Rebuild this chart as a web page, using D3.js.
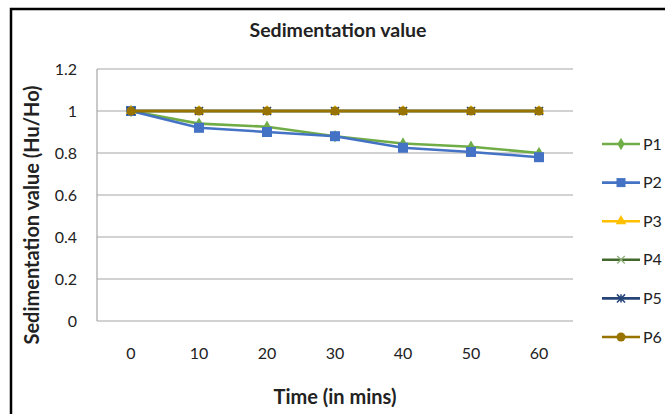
<!DOCTYPE html>
<html>
<head>
<meta charset="utf-8">
<script src="https://cdn.jsdelivr.net/npm/d3@7"></script>
<style>
  html, body { margin: 0; padding: 0; background: #fff; }
  svg { display: block; }
  text { font-family: Lato, "Open Sans", sans-serif; fill: #222; }
</style>
</head>
<body>
<div id="chart"></div>
<script>
// Sampling times (minutes)
const times = [0, 10, 20, 30, 40, 50, 60];

// Sedimentation value Hu/Ho for each sample
const seriesNames = ["P1", "P2", "P3", "P4", "P5", "P6"];
const p1 = [1, 0.94, 0.925, 0.88, 0.845, 0.83, 0.80];
const p2 = [1, 0.92, 0.90, 0.88, 0.825, 0.805, 0.78];
const p3 = [1, 1, 1, 1, 1, 1, 1];
const p4 = [1, 1, 1, 1, 1, 1, 1];
const p5 = [1, 1, 1, 1, 1, 1, 1];
const p6 = [1, 1, 1, 1, 1, 1, 1];

const yTicks = [0, 0.2, 0.4, 0.6, 0.8, 1, 1.2];

const colors = ["#70AD47", "#4472C4", "#FFC000", "#43682B", "#264478", "#997300"];
const markers = ["diamond", "square", "triangle", "cross", "asterisk", "circle"];

const series = seriesNames.map((name, i) => ({
  name, color: colors[i], marker: markers[i],
  values: [p1, p2, p3, p4, p5, p6][i]
}));

const W = 665, H = 414;
const plot = { left: 97, right: 573, top: 69, bottom: 321 };

const svg = d3.select("#chart").append("svg")
  .attr("width", W).attr("height", H);

// Chart frame (cropped on the right and bottom)
svg.append("path")
  .attr("d", `M11,${H + 5} L11,9 L${W + 5},9`)
  .attr("fill", "none").attr("stroke", "#000").attr("stroke-width", 2.5);

const x = d3.scaleBand().domain(times).range([plot.left, plot.right]);
const y = d3.scaleLinear().domain([0, 1.2]).range([plot.bottom, plot.top]);

// Horizontal gridlines
svg.append("g").selectAll("line").data(yTicks).join("line")
  .attr("x1", plot.left).attr("x2", plot.right)
  .attr("y1", d => y(d)).attr("y2", d => y(d))
  .attr("stroke", "#a6a6a6").attr("stroke-width", 1.2);

// Left axis line
svg.append("line")
  .attr("x1", plot.left).attr("x2", plot.left)
  .attr("y1", plot.top).attr("y2", plot.bottom)
  .attr("stroke", "#a6a6a6").attr("stroke-width", 1.2);

// Y axis tick labels
const yAxis = d3.axisLeft(y).tickValues(yTicks).tickSize(0).tickPadding(20)
  .tickFormat(d => String(d));
const gy = svg.append("g").attr("transform", `translate(${plot.left},0)`).call(yAxis);
gy.select(".domain").remove();
gy.selectAll("text").style("font-family", "Lato, sans-serif").style("font-size", "16px").attr("fill", "#222");

// X axis tick labels
const xAxis = d3.axisBottom(x).tickSize(0).tickPadding(27);
const gx = svg.append("g").attr("transform", `translate(0,${plot.bottom})`).call(xAxis);
gx.select(".domain").remove();
gx.selectAll("text").style("font-family", "Lato, sans-serif").style("font-size", "16px").attr("fill", "#222");

// Titles
svg.append("text").attr("x", 338).attr("y", 37).attr("text-anchor", "middle")
  .style("font-weight", "bold").style("font-size", "19.5px").text("Sedimentation value");
svg.append("text").attr("x", 335).attr("y", 404).attr("text-anchor", "middle")
  .style("font-weight", "bold").style("font-size", "20px").text("Time (in mins)");
svg.append("text").attr("transform", "translate(39,215) rotate(-90)").attr("text-anchor", "middle")
  .style("font-weight", "bold").style("font-size", "20px").text("Sedimentation value (Hu/Ho)");

// Marker drawing
function drawMarker(g, type, color, size) {
  const s = size;
  if (type === "diamond") {
    g.append("path").attr("d", d3.symbol(d3.symbolDiamond, s * s * 0.55)()).attr("fill", color);
  } else if (type === "square") {
    g.append("rect").attr("x", -s / 2).attr("y", -s / 2).attr("width", s).attr("height", s).attr("fill", color);
  } else if (type === "triangle") {
    g.append("path").attr("d", d3.symbol(d3.symbolTriangle, s * s * 0.6)()).attr("fill", color);
  } else if (type === "cross") {
    const r = s * 0.42;
    g.append("path").attr("d", `M${-r},${-r}L${r},${r}M${-r},${r}L${r},${-r}`)
      .attr("stroke", color === "#43682B" ? "#8fb07a" : color).attr("stroke-width", 1.3).attr("fill", "none");
  } else if (type === "asterisk") {
    const r = s * 0.45;
    g.append("path").attr("d", `M${-r},${-r}L${r},${r}M${-r},${r}L${r},${-r}M0,${-r}L0,${r}`)
      .attr("stroke", color).attr("stroke-width", 1.5).attr("fill", "none");
  } else if (type === "circle") {
    g.append("circle").attr("r", s / 2).attr("fill", color);
  }
}

const line = d3.line().x((d, i) => x(times[i]) + x.bandwidth() / 2).y(d => y(d));

const gSeries = svg.append("g").selectAll("g").data(series).join("g");
gSeries.append("path")
  .attr("d", d => line(d.values))
  .attr("fill", "none").attr("stroke", d => d.color).attr("stroke-width", 2.6)
  .attr("stroke-linejoin", "round");
gSeries.each(function (d) {
  const g = d3.select(this);
  d.values.forEach((v, i) => {
    const m = g.append("g").attr("transform", `translate(${x(times[i]) + x.bandwidth() / 2},${y(v)})`);
    drawMarker(m, d.marker, d.color, d.marker === "square" ? 10 : 9);
  });
});

// Legend
const legend = svg.append("g").selectAll("g").data(series).join("g")
  .attr("transform", (d, i) => `translate(602,${144 + i * 38.6})`);
legend.append("line").attr("x1", 0).attr("x2", 38).attr("y1", 0).attr("y2", 0)
  .attr("stroke", d => d.color).attr("stroke-width", 2.6);
legend.each(function (d) {
  const m = d3.select(this).append("g").attr("transform", "translate(19,0)");
  drawMarker(m, d.marker, d.color, 9);
});
legend.append("text").attr("x", 41).attr("y", 5.5).style("font-size", "16px").text(d => d.name);
</script>
</body>
</html>
